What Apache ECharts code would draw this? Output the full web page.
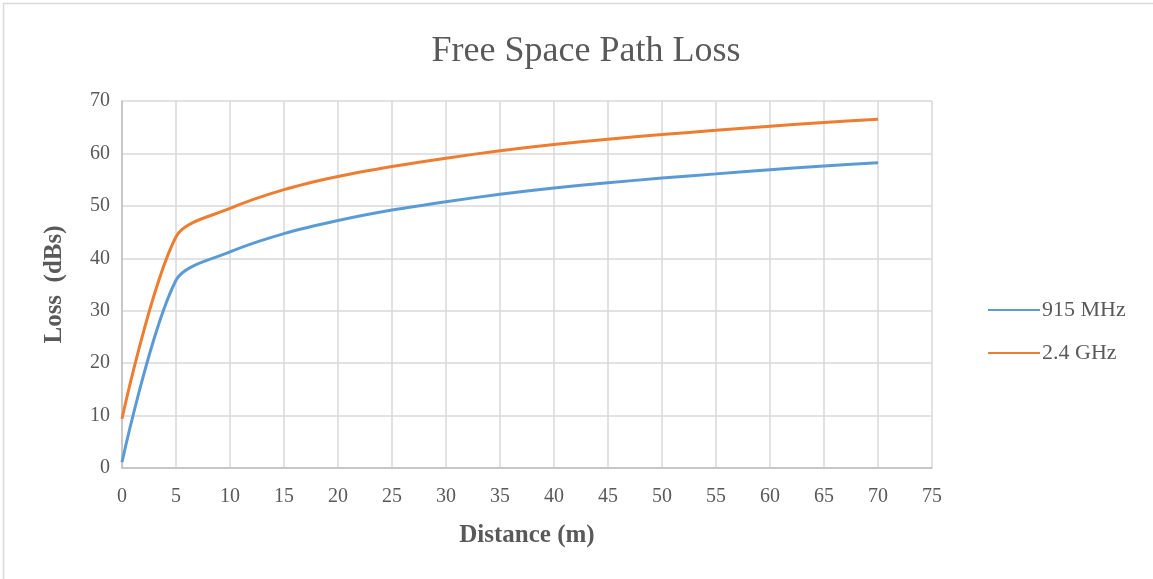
<!DOCTYPE html>
<html>
<head>
<meta charset="utf-8">
<script src="https://cdn.jsdelivr.net/npm/echarts@6/dist/echarts.min.js"></script>
<style>html,body{margin:0;padding:0;background:#fff;}#c{width:1153px;height:579px;}</style>
</head>
<body>
<div id="c"></div>
<script>
var distances = [0, 5, 10, 15, 20, 25, 30, 35, 40, 45, 50, 55, 60, 65, 70];
var loss915 = [1.1, 35.8, 41.2, 44.7, 47.2, 49.2, 50.8, 52.2, 53.4, 54.4, 55.3, 56.1, 56.9, 57.6, 58.2];
var loss24 = [9.4, 44.1, 49.5, 53.1, 55.6, 57.5, 59.1, 60.5, 61.7, 62.7, 63.6, 64.4, 65.2, 65.9, 66.5];
var seriesNames = ['915 MHz', '2.4 GHz'];

function pairs(xs, ys) { return xs.map(function (x, i) { return [x, ys[i]]; }); }

var font = '"Liberation Serif", "Times New Roman", serif';
var chart = echarts.init(document.getElementById('c'));
chart.setOption({
  animation: false,
  backgroundColor: '#fff',
  textStyle: { fontFamily: font },
  graphic: [{
    type: 'rect', shape: { x: 3.5, y: 3.5, width: 1200, height: 700 },
    style: { fill: 'none', stroke: '#d9d9d9', lineWidth: 1.5 }, silent: true
  }],
  title: {
    text: 'Free Space Path Loss', top: 29, left: 581, textAlign: 'center',
    textStyle: { fontFamily: font, fontSize: 36, fontWeight: 'normal', color: '#595959' }
  },
  legend: {
    orient: 'vertical', left: 983, top: 294, itemGap: 21, itemWidth: 52, itemHeight: 10,
    icon: 'path://M0,4L52,4L52,6L0,6Z',
    textStyle: { fontFamily: font, fontSize: 22, color: '#595959', padding: [0, 0, 0, -3] },
    data: seriesNames
  },
  grid: { left: 122, right: 221, top: 101, bottom: 111 },
  xAxis: {
    type: 'value', min: 0, max: 75, interval: 5,
    name: 'Distance (m)', nameLocation: 'middle', nameGap: 55,
    nameTextStyle: { fontFamily: font, fontSize: 25, fontWeight: 'bold', color: '#595959' },
    axisLine: { show: true, lineStyle: { color: '#bfbfbf', width: 1.5 } },
    axisTick: { show: false },
    axisLabel: { fontFamily: font, fontSize: 20, color: '#595959', margin: 19 },
    splitLine: { show: true, lineStyle: { color: '#d9d9d9', width: 1.5 } }
  },
  yAxis: {
    type: 'value', min: 0, max: 70, interval: 10,
    name: 'Loss  (dBs)', nameLocation: 'middle', nameGap: 55, nameRotate: 90,
    nameTextStyle: { fontFamily: font, fontSize: 25, fontWeight: 'bold', color: '#595959' },
    axisLine: { show: true, lineStyle: { color: '#bfbfbf', width: 1.5 } },
    axisTick: { show: false },
    axisLabel: { fontFamily: font, fontSize: 20, color: '#595959', margin: 12 },
    splitLine: { show: true, lineStyle: { color: '#d9d9d9', width: 1.5 } }
  },
  series: [
    {
      name: seriesNames[0], type: 'line', smooth: 0.3, showSymbol: false, symbol: 'none',
      data: pairs(distances, loss915),
      lineStyle: { color: '#5b9bd5', width: 3 }, itemStyle: { color: '#5b9bd5' }
    },
    {
      name: seriesNames[1], type: 'line', smooth: 0.3, showSymbol: false, symbol: 'none',
      data: pairs(distances, loss24),
      lineStyle: { color: '#ed7d31', width: 3 }, itemStyle: { color: '#ed7d31' }
    }
  ]
});
</script>
</body>
</html>
